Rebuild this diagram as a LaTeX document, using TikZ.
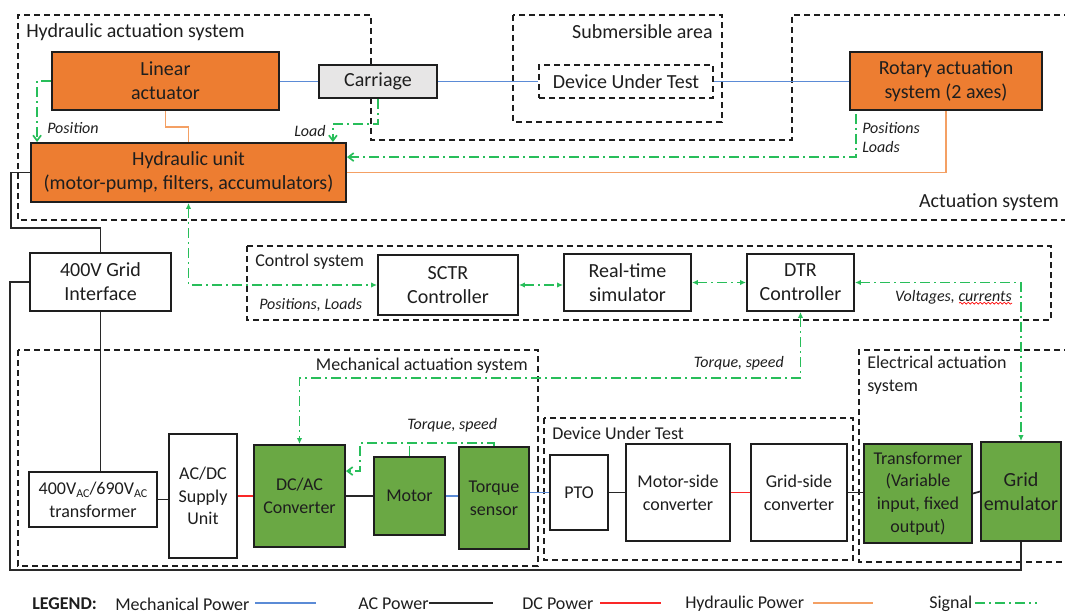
\documentclass[tikz,border=0pt]{standalone}
\usepackage{fontspec}
\setmainfont{Carlito}
\usetikzlibrary{arrows.meta,calc,decorations.pathmorphing}
\definecolor{orfill}{RGB}{237,125,49}
\definecolor{grfill}{RGB}{106,168,68}
\definecolor{gyfill}{RGB}{231,230,230}
\definecolor{mechc}{RGB}{91,139,214}
\definecolor{acc}{RGB}{40,40,40}
\definecolor{dcc}{RGB}{250,40,40}
\definecolor{hydc}{RGB}{244,160,100}
\definecolor{sigc}{RGB}{40,190,90}
\definecolor{txt}{RGB}{30,30,30}
\newcommand\sbs[1]{\raisebox{-0.35ex}{\fontsize{9}{10}\selectfont #1}}
\tikzset{
  bx/.style={draw=txt, line width=1.4pt, inner sep=0pt, align=center,
    font=\fontsize{15}{18}\selectfont, text=txt},
  small/.style={font=\fontsize{13.5}{17}\selectfont},
  orangebox/.style={bx, fill=orfill},
  greenbox/.style={bx, fill=grfill},
  graybox/.style={bx, fill=gyfill},
  whitebox/.style={bx, fill=white},
  dashbox/.style={bx, fill=white, dash pattern=on 4.5pt off 3pt},
  region/.style={draw=txt, line width=1.3pt, dash pattern=on 4.5pt off 3pt},
  mech/.style={draw=mechc, line width=1.3pt},
  acl/.style={draw=acc, line width=1.3pt},
  dcl/.style={draw=dcc, line width=1.3pt},
  hydl/.style={draw=hydc, line width=1.3pt},
  sig/.style={draw=sigc, line width=1.3pt, dash pattern=on 7.5pt off 3pt on 1.5pt off 3pt},
  lbl/.style={font=\fontsize{15}{18}\selectfont, text=txt, inner sep=0pt, align=left},
  ilbl/.style={font=\fontsize{12}{15}\selectfont\itshape, text=txt, inner sep=0pt},
  lgd/.style={font=\fontsize{13.5}{16}\selectfont, text=txt, inner sep=0pt, anchor=west},
  barb/.style={-{Straight Barb[length=4pt,width=6pt]}},
  tri/.style={{Latex[length=4.5pt,width=4pt]}-{Latex[length=4.5pt,width=4pt]}},
}
\newcommand\mkbox[7]{\node[#6, minimum width={(#4-#2)*0.75pt}, minimum height={(#5-#3)*0.75pt}] (#1) at ({(#2+#4)/2},{(#3+#5)/2}) {#7};}
\begin{document}
\begin{tikzpicture}[x=0.75pt, y=-0.75pt]
\useasboundingbox (0,0) rectangle (1065,613);

% regions
\draw[region] (1070,15) -- (792,15) -- (792,140) -- (371,140) -- (371,15) -- (18,15) -- (18,220) -- (1070,220);
\draw[region] (513,15) rectangle (722,122);
\draw[region] (247,246) rectangle (1051,320);
\draw[region] (18,350) rectangle (538,566);
\draw[region] (544,418) rectangle (853,560);
\draw[region] (1070,350) -- (859,350) -- (859,562) -- (1070,562);

\node[lbl, anchor=west] (lhas) at (26,32) {Hydraulic actuation system};
\node[lbl, anchor=east] (lsub) at (713,32) {Submersible area};
\node[lbl, anchor=east] (lact) at (1059,202) {Actuation system};
\node[lbl, small, anchor=west] (lctl) at (255,262) {Control system};
\node[lbl, small, anchor=east] (lmas) at (528,366) {Mechanical actuation system};
\node[lbl, small, anchor=west] (ldut) at (552,433) {Device Under Test};
\node[lbl, small, anchor=north west] (leas) at (867,356) {Electrical actuation\\system};

% boxes
\mkbox{lin}{52}{52}{279}{110}{orangebox}{Linear\\actuator}
\mkbox{carr}{319}{65}{437}{98}{graybox}{Carriage}
\mkbox{dutA}{539}{65}{713}{98}{dashbox}{Device Under Test}
\mkbox{rot}{850}{52}{1042}{110}{orangebox}{Rotary actuation\\system (2 axes)}
\mkbox{hyd}{31}{143}{346}{202}{orangebox}{Hydraulic unit\\(motor-pump, filters, accumulators)}
\mkbox{grid}{30}{253}{171}{311}{whitebox}{400V Grid\\Interface}
\mkbox{sctr}{378}{255}{518}{315}{whitebox}{SCTR\\Controller}
\mkbox{rts}{564}{254}{691}{311}{whitebox}{Real-time\\simulator}
\mkbox{dtr}{747}{254}{854}{311}{whitebox}{DTR\\Controller}
\mkbox{trA}{29}{472}{157}{527}{whitebox,small}{400V\sbs{AC}/690V\sbs{AC}\\transformer}
\mkbox{acdc}{169}{434}{237}{558}{whitebox,small}{AC/DC\\Supply\\Unit}
\mkbox{dcac}{254}{445}{345}{547}{greenbox,small}{DC/AC\\Converter}
\mkbox{mot}{374}{457}{445}{535}{greenbox,small}{Motor}
\mkbox{tqs}{459}{447}{529}{549}{greenbox,small}{Torque\\sensor}
\mkbox{pto}{550}{455}{608}{530}{whitebox,small}{PTO}
\mkbox{msc}{626}{444}{730}{541}{whitebox,small}{Motor-side\\converter}
\mkbox{gsc}{751}{444}{847}{541}{whitebox,small}{Grid-side\\converter}
\mkbox{trB}{864}{444}{972}{543}{greenbox,small}{Transformer\\(Variable\\input, fixed\\output)}
\mkbox{gem}{981}{442}{1061}{541}{greenbox}{Grid\\emulator}

% mechanical power
\draw[mech] (lin.east |- carr.west) -- (carr.west);
\draw[mech] (carr.east) -- (dutA.west);
\draw[mech] (dutA.east) -- (rot.west |- dutA.east);
\draw[mech] (mot.east) -- (mot.east -| tqs.west);
\draw[mech] (tqs.east |- pto.west) -- (pto.west);

% hydraulic power
\draw[hydl] (lin.south) -- ++(0,16) -| (hyd.north);
\draw[hydl] (hyd.east) -| (rot.south);

% AC power
\coordinate (acA) at (11,228);
\coordinate (acB) at (10,570);
\draw[acl] (hyd.west) -| (acA) -| (grid.north);
\draw[acl] (grid.south) -- (grid.south |- trA.north);
\draw[acl] (grid.west) -| (acB) -| (gem.south);
\draw[acl] (trA.east) -- (trA.east -| acdc.west);
\draw[acl] (dcac.east) -- (mot.west);
\draw[acl] (pto.east) -- (msc.west);
\draw[acl] (gsc.east) -- (gsc.east -| trB.west);
\draw[acl] (trB.east) -- (gem.west);

% DC power
\draw[dcl] (acdc.east) -- (dcac.west);
\draw[dcl] (msc.east) -- (gsc.west);

% signals
\draw[sig, barb] (lin.west) -| ($(hyd.north west)+(7,0)$);
\draw[sig, barb] (carr.south) -- ++(0,25) -| ($(hyd.north east)+(-14,0)$);
\draw[sig, barb] ($(rot.south west)+(7,3)$) |- ($(hyd.north east)+(0,15)$);
\draw[sig, tri] (hyd.south) |- (sctr.west);
\draw[sig, tri] (sctr.east) -- (sctr.east -| rts.west);
\draw[sig, tri] (rts.east) -- (rts.east -| dtr.west);
\draw[sig, tri] (dtr.east) -| (gem.north);
\draw[sig, tri] (dtr.south) -- ++(0,66) -| (dcac.north);
\coordinate (tsj) at (360,443);
\draw[sig, barb] (tqs.north) |- (tsj) |- ($(dcac.north east)+(0,27)$);
\draw[sig] (mot.north) -- (mot.north |- tsj);

% signal labels
\node[ilbl, anchor=west] (lpos) at (47,128) {Position};
\node[ilbl, anchor=west] (lload) at (294,131) {Load};
\node[ilbl, anchor=west] (lposs) at (862,128) {Positions};
\node[ilbl, anchor=west] (lloads) at (862,147) {Loads};
\node[ilbl, anchor=west] (lpl) at (259,305) {Positions, Loads};
\node[ilbl, anchor=east] (lvc) at (1012,297) {Voltages, currents};
\draw[red, line width=0.5pt, decorate, decoration={snake, amplitude=0.7pt, segment length=3pt}]
  ($(lvc.south east)+(-53,-1)$) -- ($(lvc.south east)+(0,-1)$);
\node[ilbl, anchor=east] (lts1) at (784,363) {Torque, speed};
\node[ilbl, anchor=west] (lts2) at (407,425) {Torque, speed};

% legend
\node[lgd, font=\fontsize{13.5}{16}\selectfont\bfseries] (lg0) at (32,604) {LEGEND:};
\node[lgd] (lg1) at (115,604) {Mechanical Power};
\node[lgd] (lg2) at (358,604) {AC Power};
\node[lgd] (lg3) at (522,604) {DC Power};
\node[lgd] (lg4) at (685,604) {Hydraulic Power};
\node[lgd] (lg5) at (929,604) {Signal};
\coordinate (m1) at (255,603); \coordinate (m2) at (316,603);
\coordinate (a1) at (429,603); \coordinate (a2) at (493,603);
\coordinate (d1) at (600,603); \coordinate (d2) at (661,603);
\coordinate (h1) at (813,603); \coordinate (h2) at (873,603);
\coordinate (s1) at (975,603); \coordinate (s2) at (1037,603);
\draw[mech, line width=1.8pt] (m1) -- (m2);
\draw[acl, line width=1.8pt] (a1) -- (a2);
\draw[dcl, line width=1.8pt] (d1) -- (d2);
\draw[hydl, line width=1.8pt] (h1) -- (h2);
\draw[sig, line width=1.8pt] (s1) -- (s2);
\end{tikzpicture}
\end{document}
